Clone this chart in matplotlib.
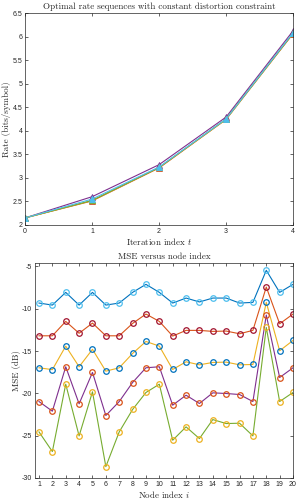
import numpy as np
import matplotlib
matplotlib.use("Agg")
import matplotlib.pyplot as plt

plt.rcParams['mathtext.fontset'] = 'cm'
plt.rcParams['font.family'] = ['Liberation Sans', 'DejaVu Sans']
plt.rcParams['axes.unicode_minus'] = False

# top chart: rate per iteration
iters = [0, 1, 2, 3, 4]
rate_purple = [2.15, 2.60, 3.28, 4.29, 6.12]
rate_orange = [2.15, 2.51, 3.21, 4.24, 6.06]
rate_yellow = [2.15, 2.52, 3.22, 4.24, 6.07]
rate_green = [2.15, 2.52, 3.22, 4.25, 6.07]
rate_cyan = [2.15, 2.55, 3.23, 4.25, 6.08]

# bottom chart: MSE per node
nodes = list(range(1, 21))
mse_1 = [-9.33, -9.57, -8.07, -9.57, -8.07, -9.57, -9.33, -8.07, -7.12, -8.07,
         -9.33, -8.74, -9.2, -8.74, -8.74, -9.33, -9.25, -5.46, -8.07, -7.12]
mse_2 = [-13.2, -13.2, -11.5, -12.9, -11.7, -13.2, -13.2, -11.74, -10.63, -11.5,
         -13.23, -12.56, -12.56, -12.68, -12.64, -12.96, -12.56, -7.44, -11.78, -10.63]
mse_3 = [-16.98, -17.2, -14.42, -16.86, -14.8, -17.38, -16.98, -15.29, -13.87, -14.42,
         -17.18, -16.27, -16.63, -16.35, -16.31, -16.63, -16.59, -9.25, -14.97, -13.75]
mse_4 = [-20.97, -22.11, -16.86, -21.24, -17.53, -22.62, -20.97, -18.72, -16.98, -16.86,
         -21.4, -20.22, -21.2, -19.94, -20.02, -20.14, -20.97, -10.75, -18.13, -16.98]
mse_5 = [-24.56, -26.88, -18.92, -25.03, -19.82, -28.66, -24.56, -21.91, -19.9, -18.92,
         -25.54, -23.96, -25.35, -23.1, -23.57, -23.53, -25.03, -12.21, -20.97, -19.9]

# matlab default colours
blue = (0, 0.447, 0.741)
orange = (0.85, 0.325, 0.098)
yellow = (0.929, 0.694, 0.125)
purple = (0.494, 0.184, 0.556)
green = (0.466, 0.674, 0.188)
cyan = (0.301, 0.745, 0.933)
red = (0.635, 0.078, 0.184)

serif = 'cmr10'
edge = (0.15, 0.15, 0.15)


def style_axes(ax):
    for s in ax.spines.values():
        s.set_color(edge)
        s.set_linewidth(0.5)
    ax.tick_params(direction='in', length=2, width=0.5, labelsize=5, colors=edge,
                   top=True, right=True, pad=2)


fig = plt.figure(figsize=(2.99, 5.01), dpi=100)

ax1 = fig.add_axes([0.084, 0.551, 0.896, 0.423])
for vals, col in [(rate_purple, purple), (rate_orange, orange), (rate_yellow, yellow),
                  (rate_green, green), (rate_cyan, cyan)]:
    ax1.plot(iters, vals, color=col, linewidth=0.8, marker='^', markersize=5,
             markerfacecolor=cyan, markeredgecolor=col, markeredgewidth=0.6)
ax1.set_xlim(0, 4)
ax1.set_ylim(2, 6.5)
ax1.set_xticks([0, 1, 2, 3, 4])
ax1.set_yticks([2, 2.5, 3, 3.5, 4, 4.5, 5, 5.5, 6, 6.5])
ax1.set_yticklabels(['2', '2.5', '3', '3.5', '4', '4.5', '5', '5.5', '6', '6.5'])
style_axes(ax1)
ax1.set_title('Optimal rate sequences with constant distortion constraint',
              fontname=serif, fontsize=6.5, pad=3, color=edge)
ax1.set_xlabel('Iteration index $t$', fontname=serif, fontsize=6.5, labelpad=1, color=edge)
ax1.set_ylabel('Rate (bits/symbol)', fontname=serif, fontsize=6.5, labelpad=1, color=edge)

ax2 = fig.add_axes([0.117, 0.046, 0.863, 0.429])
for vals, lc, mc in [(mse_1, blue, cyan), (mse_2, orange, red), (mse_3, yellow, blue),
                     (mse_4, purple, orange), (mse_5, green, yellow)]:
    ax2.plot(nodes, vals, color=lc, linewidth=0.8, marker='o', markersize=4,
             markerfacecolor='none', markeredgecolor=mc, markeredgewidth=0.9)
ax2.set_xlim(0.7, 20)
ax2.set_ylim(-30, -4.6)
ax2.set_xticks(nodes)
ax2.set_yticks([-30, -25, -20, -15, -10, -5])
style_axes(ax2)
ax2.set_title('MSE versus node index', fontname=serif, fontsize=6.5, pad=3, color=edge)
ax2.set_xlabel('Node index $i$', fontname=serif, fontsize=6.5, labelpad=1, color=edge)
ax2.set_ylabel('MSE (dB)', fontname=serif, fontsize=6.5, labelpad=1, color=edge)

fig.savefig('out.png', dpi=100)
